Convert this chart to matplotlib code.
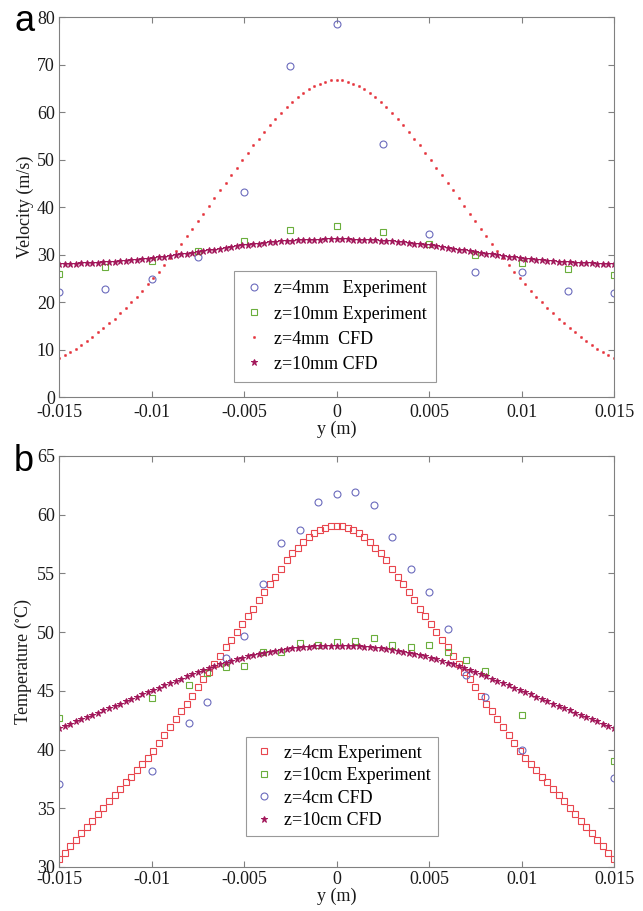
import numpy as np
import matplotlib
matplotlib.use('Agg')
import matplotlib.pyplot as plt

plt.rcParams['font.family'] = ['Liberation Serif', 'DejaVu Serif']
plt.rcParams['mathtext.fontset'] = 'stix'

# ---------------- Panel a data ----------------
y_exp_a = [-0.015, -0.0125, -0.01, -0.0075, -0.005, -0.0025, 0.0,
           0.0025, 0.005, 0.0075, 0.01, 0.0125, 0.015]
vel_exp_4mm = [22.2, 22.8, 24.8, 29.5, 43.2, 69.7, 78.5,
               53.2, 34.3, 26.4, 26.4, 22.4, 22.0]
vel_exp_10mm = [26.0, 27.4, 28.7, 30.7, 32.9, 35.1, 36.0,
                34.8, 32.3, 29.8, 28.3, 27.0, 25.7]

y_cfd = np.linspace(-0.015, 0.015, 101)
vel_cfd_4mm = [8.2, 8.8, 9.5, 10.2, 11.0, 11.8, 12.7, 13.6, 14.5, 15.5, 16.5, 17.6, 18.7,
               19.9, 21.1, 22.4, 23.7, 25.0, 26.4, 27.8, 29.3, 30.8, 32.3, 33.8, 35.4,
               37.0, 38.6, 40.2, 41.8, 43.5, 45.1, 46.7, 48.3, 49.9, 51.4, 53.0, 54.4,
               55.9, 57.3, 58.6, 59.8, 61.0, 62.1, 63.1, 64.0, 64.8, 65.4, 66.0, 66.4,
               66.7, 66.8, 66.7, 66.4, 66.0, 65.4, 64.8, 64.0, 63.1, 62.1, 61.0, 59.8,
               58.6, 57.3, 55.9, 54.4, 53.0, 51.4, 49.9, 48.3, 46.7, 45.1, 43.5, 41.8,
               40.2, 38.6, 37.0, 35.4, 33.8, 32.3, 30.8, 29.3, 27.8, 26.4, 25.0, 23.7,
               22.4, 21.1, 19.9, 18.7, 17.6, 16.5, 15.5, 14.5, 13.6, 12.7, 11.8, 11.0,
               10.2, 9.5, 8.8, 8.2]
vel_cfd_10mm = [27.98, 28.01, 28.05, 28.09, 28.13, 28.18, 28.24, 28.3, 28.37, 28.45, 28.53,
                28.62, 28.72, 28.82, 28.93, 29.04, 29.16, 29.29, 29.42, 29.56, 29.7, 29.85,
                30.01, 30.17, 30.34, 30.51, 30.68, 30.86, 31.05, 31.23, 31.41, 31.58, 31.74,
                31.9, 32.05, 32.19, 32.32, 32.44, 32.55, 32.66, 32.75, 32.84, 32.91, 32.98,
                33.04, 33.09, 33.13, 33.16, 33.18, 33.2, 33.2, 33.2, 33.18, 33.16, 33.13,
                33.09, 33.04, 32.98, 32.91, 32.84, 32.75, 32.66, 32.55, 32.44, 32.32, 32.19,
                32.05, 31.9, 31.74, 31.58, 31.41, 31.23, 31.05, 30.86, 30.68, 30.51, 30.34,
                30.17, 30.01, 29.85, 29.7, 29.56, 29.42, 29.29, 29.16, 29.04, 28.93, 28.82,
                28.72, 28.62, 28.53, 28.45, 28.37, 28.3, 28.24, 28.18, 28.13, 28.09, 28.05,
                28.01, 27.98]

# ---------------- Panel b data ----------------
temp_exp_4cm = [30.7, 31.2, 31.8, 32.3, 32.9, 33.4, 33.9, 34.5, 35.0, 35.6, 36.1, 36.6, 37.2,
                37.7, 38.3, 38.8, 39.3, 39.9, 40.6, 41.2, 41.9, 42.6, 43.3, 43.9, 44.6,
                45.3, 46.0, 46.6, 47.3, 48.0, 48.7, 49.3, 50.0, 50.7, 51.4, 52.0, 52.7,
                53.4, 54.1, 54.7, 55.4, 56.1, 56.7, 57.2, 57.7, 58.1, 58.4, 58.7, 58.9,
                59.0, 59.0, 59.0, 58.9, 58.7, 58.4, 58.1, 57.7, 57.2, 56.7, 56.1, 55.4,
                54.7, 54.1, 53.4, 52.7, 52.0, 51.4, 50.7, 50.0, 49.3, 48.7, 48.0, 47.3,
                46.6, 46.0, 45.3, 44.6, 43.9, 43.3, 42.6, 41.9, 41.2, 40.6, 39.9, 39.3,
                38.8, 38.3, 37.7, 37.2, 36.6, 36.1, 35.6, 35.0, 34.5, 33.9, 33.4, 32.9,
                32.3, 31.8, 31.2, 30.7]
temp_cfd_10cm = [41.81, 42.0, 42.19, 42.39, 42.58, 42.77, 42.96, 43.15, 43.35, 43.54, 43.73,
                 43.92, 44.11, 44.31, 44.5, 44.69, 44.88, 45.07, 45.27, 45.46, 45.65, 45.84,
                 46.03, 46.23, 46.42, 46.6, 46.78, 46.95, 47.11, 47.26, 47.41, 47.55, 47.68,
                 47.81, 47.93, 48.04, 48.14, 48.24, 48.33, 48.41, 48.49, 48.56, 48.62, 48.67,
                 48.72, 48.76, 48.79, 48.82, 48.84, 48.85, 48.85, 48.85, 48.84, 48.82, 48.79,
                 48.76, 48.72, 48.67, 48.62, 48.56, 48.49, 48.41, 48.33, 48.24, 48.14, 48.04,
                 47.93, 47.81, 47.68, 47.55, 47.41, 47.26, 47.11, 46.95, 46.78, 46.6, 46.42,
                 46.23, 46.03, 45.84, 45.65, 45.46, 45.27, 45.07, 44.88, 44.69, 44.5, 44.31,
                 44.11, 43.92, 43.73, 43.54, 43.35, 43.15, 42.96, 42.77, 42.58, 42.39, 42.19,
                 42.0, 41.81]

y_pts_b = [-0.015, -0.01, -0.008, -0.007, -0.006, -0.005, -0.004, -0.003, -0.002, -0.001,
           0.0, 0.001, 0.002, 0.003, 0.004, 0.005, 0.006, 0.007, 0.008, 0.01, 0.015]
temp_exp_10cm = [42.7, 44.4, 45.5, 46.5, 47.0, 47.1, 48.3, 48.3, 49.1, 48.9,
                 49.2, 49.25, 49.5, 48.9, 48.7, 48.9, 48.3, 47.6, 46.7, 42.9, 39.0]
temp_cfd_4cm = [37.1, 38.2, 42.3, 44.05, 47.8, 49.65, 54.1, 57.6, 58.7, 61.05,
                61.8, 61.9, 60.8, 58.1, 55.4, 53.4, 50.3, 46.35, 44.45, 40.0, 37.6]

xticks = [-0.015, -0.01, -0.005, 0, 0.005, 0.01, 0.015]
xtick_labels = ['-0.015', '-0.01', '-0.005', '0', '0.005', '0.01', '0.015']

# colors
c_blue = '#6b6bbd'
c_green = '#6aae3c'
c_red = '#e5343c'
c_red2 = '#e8464e'
c_maroon = '#a2175a'
gray = '#808080'
FS = 13

fig = plt.figure(figsize=(6.43, 9.11), dpi=100)
ax1 = fig.add_axes([0.0918, 0.5642, 0.8631, 0.4171])
ax2 = fig.add_axes([0.0918, 0.0483, 0.8631, 0.4512])


def style(ax, pad, labelpad):
    for s in ax.spines.values():
        s.set_color(gray)
        s.set_linewidth(0.8)
    ax.tick_params(direction='in', top=True, right=True, length=4, width=0.8,
                   color=gray, labelsize=FS, labelcolor='#1a1a1a', pad=3)
    ax.tick_params(axis='x', pad=pad)
    ax.set_xlim(-0.015, 0.015)
    ax.set_xticks(xticks)
    ax.set_xticklabels(xtick_labels)
    ax.set_xlabel('y (m)', fontsize=FS, labelpad=labelpad, color='#1a1a1a')


# ---- panel a ----
h1, = ax1.plot(y_exp_a, vel_exp_4mm, 'o', ms=5, mfc='none', mec=c_blue, mew=0.8,
               linestyle='none', label='z=4mm   Experiment')
h2, = ax1.plot(y_exp_a, vel_exp_10mm, 's', ms=4.5, mfc='none', mec=c_green, mew=0.8,
               linestyle='none', label='z=10mm Experiment')
h3, = ax1.plot(y_cfd, vel_cfd_4mm, 'o', ms=1.7, mfc=c_red, mec=c_red, mew=0.3,
               linestyle='none', label='z=4mm  CFD')
h4, = ax1.plot(y_cfd, vel_cfd_10mm, '*', ms=4.5, mfc=c_maroon, mec=c_maroon, mew=0.7,
               linestyle='none', label='z=10mm CFD')
style(ax1, 5, 0)
ax1.set_ylim(0, 80)
ax1.set_yticks(range(0, 81, 10))
ax1.set_ylabel('Velocity (m/s)', fontsize=FS, labelpad=2, color='#1a1a1a')
leg1 = ax1.legend(handles=[h1, h2, h3, h4], loc='lower center', bbox_to_anchor=(0.497, 0.04),
                  fontsize=FS, frameon=True, fancybox=False, edgecolor=gray,
                  handlelength=1.2, handletextpad=0.5, labelspacing=0.45,
                  borderpad=0.5, borderaxespad=0)
leg1.get_frame().set_linewidth(0.8)

# ---- panel b ----
g1, = ax2.plot(y_cfd, temp_exp_4cm, 's', ms=4.5, mfc='none', mec=c_red2, mew=0.8,
               linestyle='none', label='z=4cm Experiment')
g2, = ax2.plot(y_pts_b, temp_exp_10cm, 's', ms=4.5, mfc='none', mec=c_green, mew=0.8,
               linestyle='none', label='z=10cm Experiment')
g3, = ax2.plot(y_pts_b, temp_cfd_4cm, 'o', ms=5, mfc='none', mec=c_blue, mew=0.8,
               linestyle='none', label='z=4cm CFD')
g4, = ax2.plot(y_cfd, temp_cfd_10cm, '*', ms=4.5, mfc=c_maroon, mec=c_maroon, mew=0.7,
               linestyle='none', label='z=10cm CFD')
style(ax2, 3, 0)
ax2.set_ylim(30, 65)
ax2.set_yticks(range(30, 66, 5))
ax2.set_ylabel(r'Temperature ($^{\circ}$C)', fontsize=FS, labelpad=2, color='#1a1a1a')
leg2 = ax2.legend(handles=[g1, g2, g3, g4], loc='lower center', bbox_to_anchor=(0.51, 0.075),
                  fontsize=FS, frameon=True, fancybox=False, edgecolor=gray,
                  handlelength=1.2, handletextpad=0.5, labelspacing=0.3,
                  borderpad=0.4, borderaxespad=0)
leg2.get_frame().set_linewidth(0.8)

fig.text(0.022, 0.976, 'a', fontsize=26, family='Liberation Sans', va='center', ha='left')
fig.text(0.022, 0.493, 'b', fontsize=26, family='Liberation Sans', va='center', ha='left')

fig.savefig('out.png', dpi=100)
